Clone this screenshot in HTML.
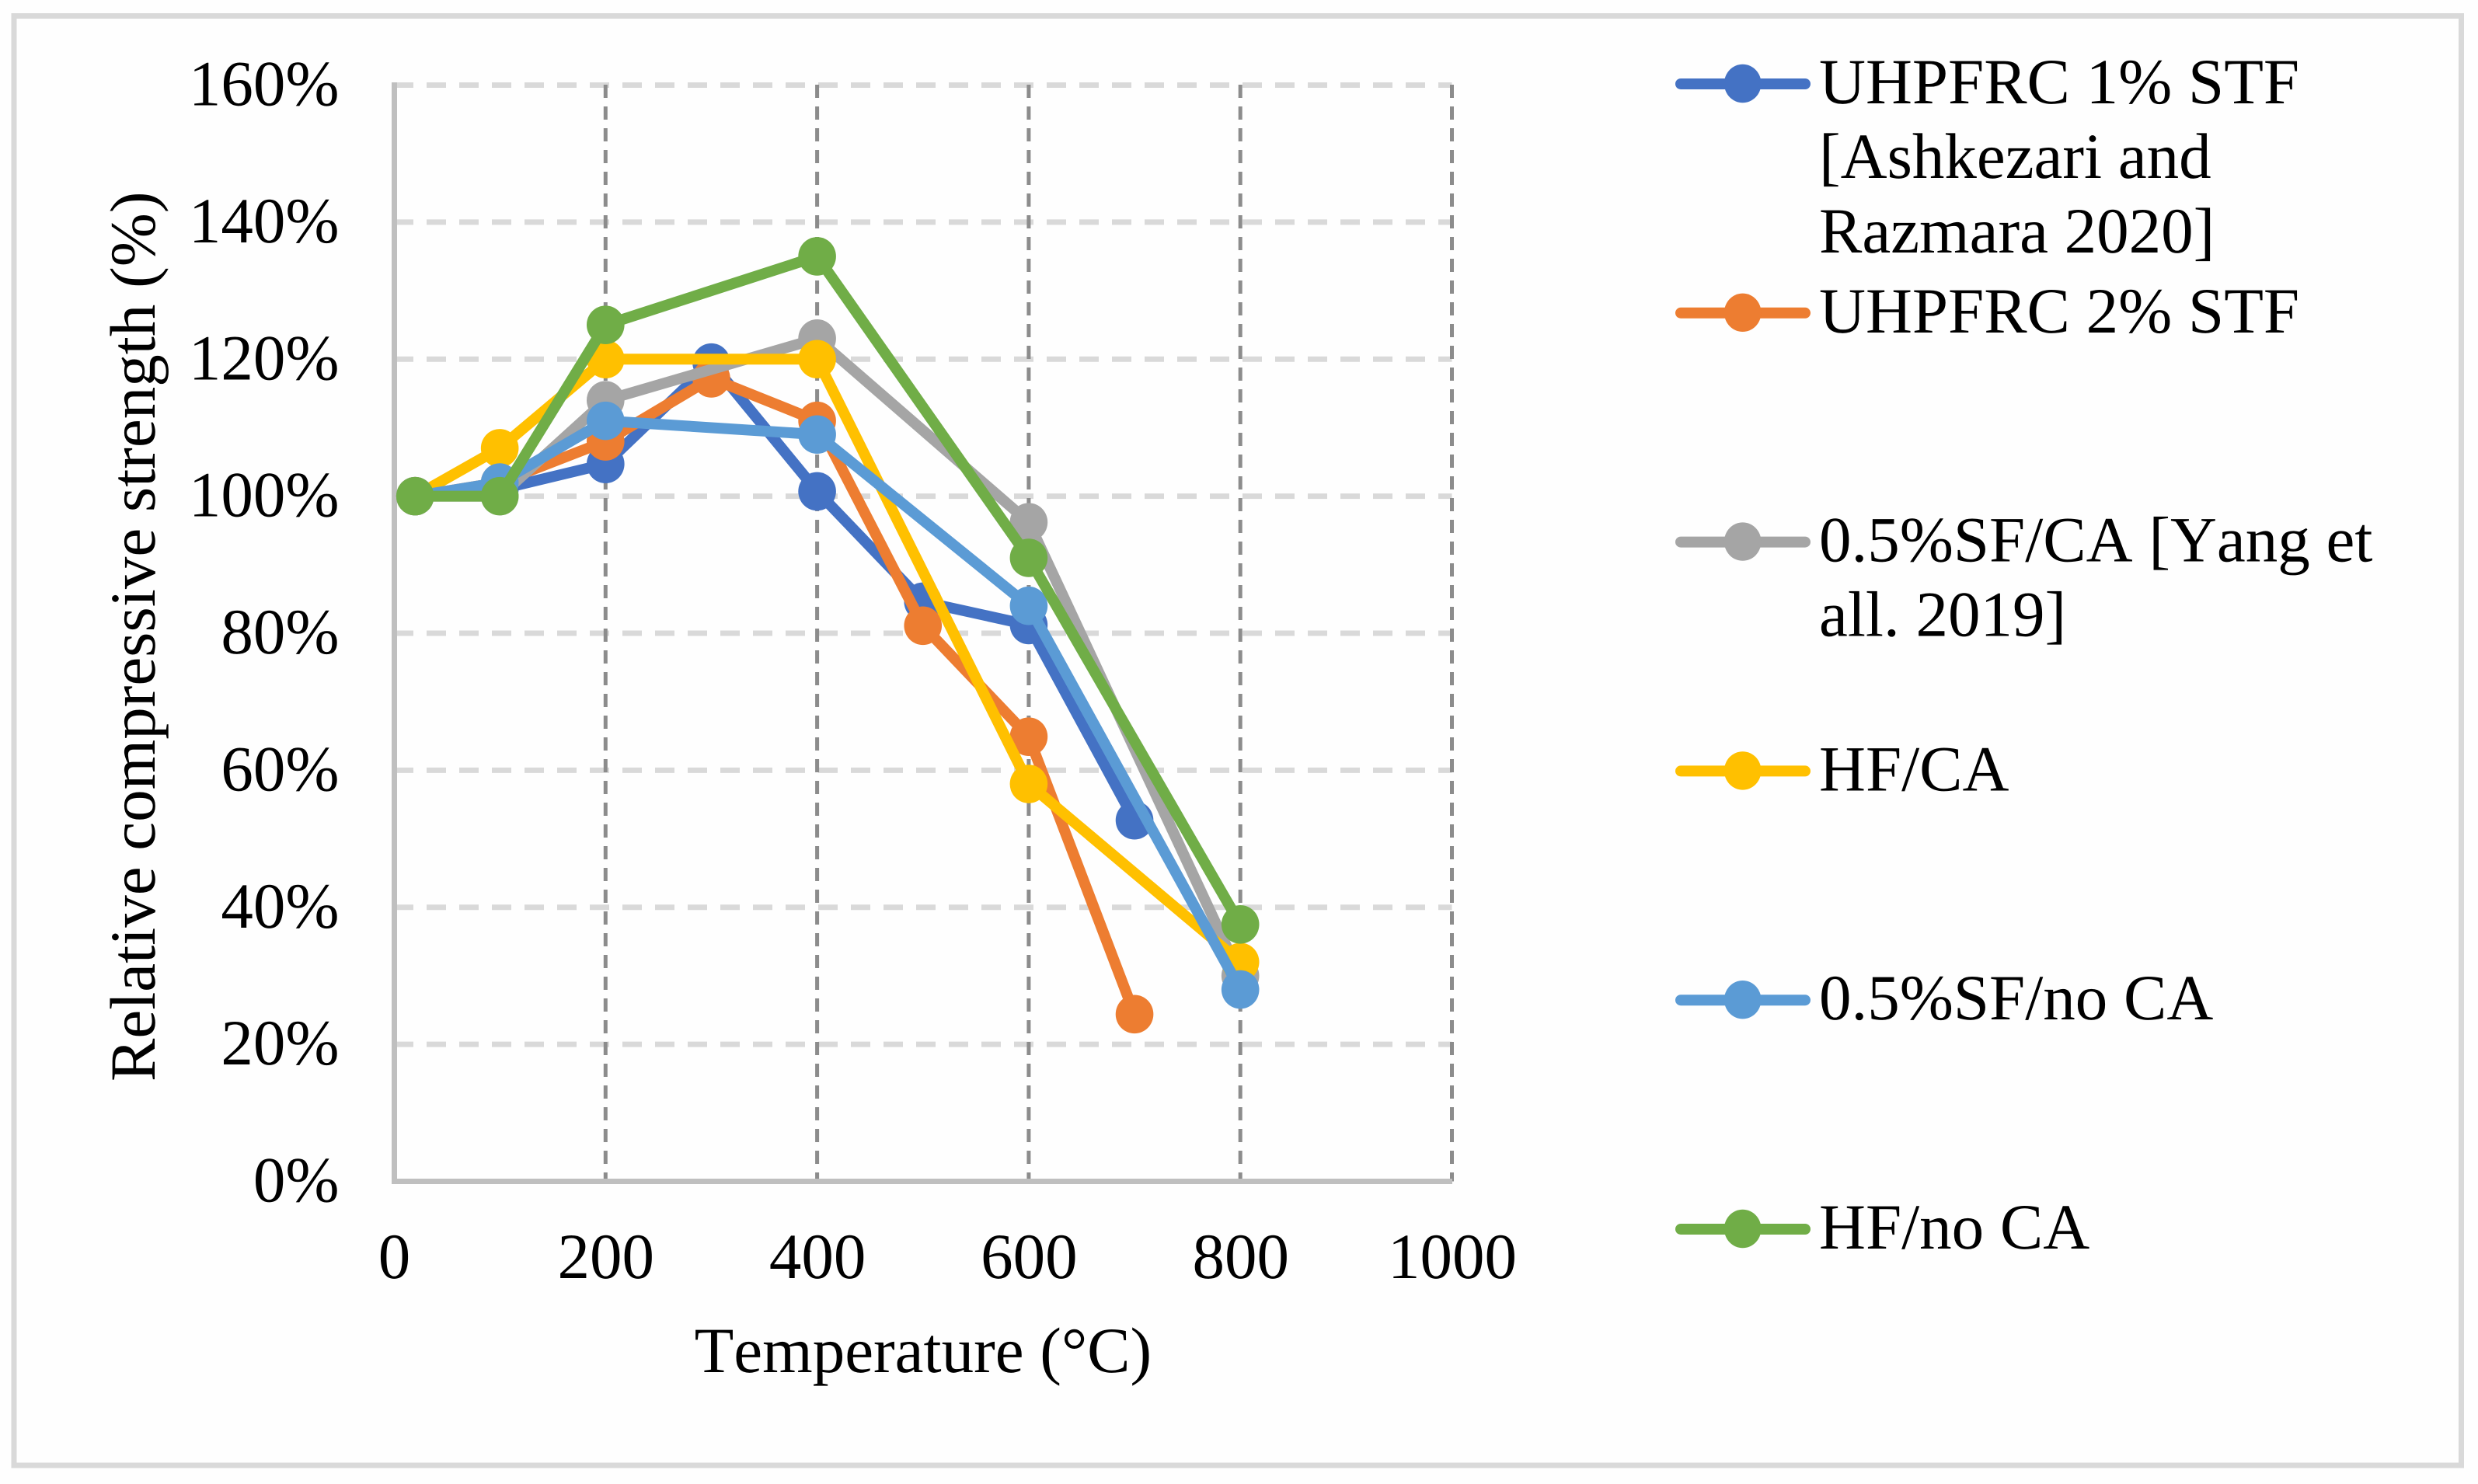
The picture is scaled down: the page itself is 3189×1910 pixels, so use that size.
<!DOCTYPE html>
<html lang="en">
<head>
<meta charset="utf-8">
<title>Relative compressive strength vs temperature</title>
<style>
html,body{margin:0;padding:0;background:#fefefe;}
svg{display:block;}
text{font-family:"Liberation Serif",serif;font-size:83px;fill:#000;font-kerning:none;text-rendering:geometricPrecision;}
</style>
</head>
<body>
<svg id="chart" xmlns="http://www.w3.org/2000/svg" width="3189" height="1910" viewBox="0 0 3189 1910">
  <rect x="18" y="20.5" width="3149.5" height="1865.5" fill="#fefefe" stroke="#d9d9d9" stroke-width="7"/>
  <g id="grid"></g>
  <g id="axes"></g>
  <g id="series"></g>
  <text transform="translate(199,1392) rotate(-90)">Relative compressive strength (%)</text>
  <text x="893.6" y="1766">Temperature (°C)</text>
  <g id="legend"></g>
</svg>
<script>
var xTicks = [0, 200, 400, 600, 800, 1000];
var yTicks = [0, 20, 40, 60, 80, 100, 120, 140, 160];
var xVerticalGrid = [200, 400, 600, 800, 1000];

var uhpfrc1Temps = [20, 100, 200, 300, 400, 500, 600, 700];
var uhpfrc1Values = [100, 101, 104.7, 119.5, 100.7, 84.6, 81.2, 52.7];
var uhpfrc2Temps = [20, 100, 200, 300, 400, 500, 600, 700];
var uhpfrc2Values = [100, 102, 108, 117.2, 111, 81.1, 64.9, 24.4];
var sfCaTemps = [20, 100, 200, 400, 600, 800];
var sfCaValues = [100, 100, 114, 123, 96.2, 30];
var hfCaTemps = [20, 100, 200, 400, 600, 800];
var hfCaValues = [100, 107, 120, 120, 58, 32];
var sfNoCaTemps = [20, 100, 200, 400, 600, 800];
var sfNoCaValues = [100, 102, 111, 109, 84, 28];
var hfNoCaTemps = [20, 100, 200, 400, 600, 800];
var hfNoCaValues = [100, 100, 125, 135, 91, 37.5];

var seriesNames = ['uhpfrc-1-stf', 'uhpfrc-2-stf', 'sf-ca', 'hf-ca', 'sf-no-ca', 'hf-no-ca'];
var seriesColors = ['#4472c4', '#ed7d31', '#a5a5a5', '#ffc000', '#5b9bd5', '#70ad47'];
var seriesTemps = [uhpfrc1Temps, uhpfrc2Temps, sfCaTemps, hfCaTemps, sfNoCaTemps, hfNoCaTemps];
var seriesValues = [uhpfrc1Values, uhpfrc2Values, sfCaValues, hfCaValues, sfNoCaValues, hfNoCaValues];
var legendLabels = [
  ['UHPFRC 1% STF', '[Ashkezari and', 'Razmara 2020]'],
  ['UHPFRC 2% STF'],
  ['0.5%SF/CA [Yang et', 'all. 2019]'],
  ['HF/CA'],
  ['0.5%SF/no CA'],
  ['HF/no CA']
];

var NS = 'http://www.w3.org/2000/svg';
var PLOT_LEFT = 507, PLOT_RIGHT = 1868.5, PLOT_TOP = 109.5, PLOT_BOTTOM = 1520.5;
function xScale(t) { return PLOT_LEFT + (t / 1000) * (PLOT_RIGHT - PLOT_LEFT); }
function yScale(v) { return PLOT_BOTTOM - (v / 160) * (PLOT_BOTTOM - PLOT_TOP); }
function make(tag, attrs, parent) {
  var el = document.createElementNS(NS, tag);
  for (var k in attrs) { el.setAttribute(k, attrs[k]); }
  parent.appendChild(el);
  return el;
}

var grid = document.getElementById('grid');
var axes = document.getElementById('axes');
var seriesGroup = document.getElementById('series');
var legend = document.getElementById('legend');

yTicks.forEach(function (v) {
  if (v === 0) { return; }
  var line = make('line', {x1: 507, x2: PLOT_RIGHT, y1: yScale(v), y2: yScale(v), stroke: '#d9d9d9', 'stroke-width': 7, 'stroke-dasharray': '25 17'}, grid);
  
  
});
xVerticalGrid.forEach(function (t) {
  var line = make('line', {x1: xScale(t), x2: xScale(t), y1: 109, y2: PLOT_BOTTOM, stroke: '#8c8c8c', 'stroke-width': 5, 'stroke-dasharray': '17 11'}, grid);
  
  
});

var yAxisLine = make('line', {x1: 507.5, x2: 507.5, y1: PLOT_TOP - 3.5, y2: PLOT_BOTTOM + 3.5, stroke: '#bfbfbf', 'stroke-width': 7}, axes);


var xAxisLine = make('line', {x1: 504, x2: 1869, y1: PLOT_BOTTOM, y2: PLOT_BOTTOM, stroke: '#bfbfbf', 'stroke-width': 7}, axes);



yTicks.forEach(function (v) {
  var t = make('text', {x: 436.5, y: yScale(v) + 26, 'text-anchor': 'end'}, axes);
  
  
  t.textContent = v + '%';
});
xTicks.forEach(function (v) {
  var t = make('text', {x: xScale(v) + 0.5, y: 1645, 'text-anchor': 'middle'}, axes);
  
  
  t.textContent = String(v);
});

seriesNames.forEach(function (name, i) {
  var g = make('g', {}, seriesGroup);
  
  
  var pts = seriesTemps[i].map(function (t, j) { return xScale(t) + ',' + yScale(seriesValues[i][j]); }).join(' ');
  var poly = make('polyline', {points: pts, fill: 'none', stroke: seriesColors[i], 'stroke-width': 14, 'stroke-linejoin': 'round', 'stroke-linecap': 'round'}, g);
  
  
  seriesTemps[i].forEach(function (t, j) {
    var c = make('ellipse', {cx: xScale(t), cy: yScale(seriesValues[i][j]), rx: 24.3, ry: 24.8, fill: seriesColors[i]}, g);
    
    
  });
});

seriesNames.forEach(function (name, i) {
  var cy = 108 + i * 294.8;
  var g = make('g', {}, legend);
  
  
  var sw = make('line', {x1: 2163, x2: 2323, y1: cy, y2: cy, stroke: seriesColors[i], 'stroke-width': 14, 'stroke-linecap': 'round'}, g);
  
  
  var mk = make('ellipse', {cx: 2242.7, cy: cy - 0.5, rx: 23.8, ry: 24.7, fill: seriesColors[i]}, g);
  
  
  legendLabels[i].forEach(function (txt, k) {
    var t = make('text', {x: 2341, y: cy + 25 + k * 96}, g);
    
    
    t.textContent = txt;
  });
});
</script>
</body>
</html>
